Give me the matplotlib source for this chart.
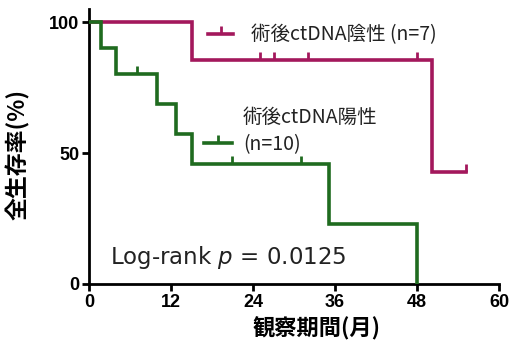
import matplotlib.pyplot as plt
from matplotlib.lines import Line2D

plt.rcParams['font.family'] = ['Liberation Sans', 'Noto Sans CJK JP', 'DejaVu Sans']
plt.rcParams['mathtext.fontset'] = 'dejavusans'

# 術後ctDNA陰性 (n=7): step curve (time in months, survival %)
neg_t = [0, 15, 15, 50.2, 50.2, 55.2]
neg_s = [100, 100, 85.7, 85.7, 42.9, 42.9]
neg_cens_t = [25, 27, 32, 48, 55.2]
neg_cens_s = [85.7, 85.7, 85.7, 85.7, 42.9]

# 術後ctDNA陽性 (n=10)
pos_t = [0, 1.7, 1.7, 4, 4, 9.9, 9.9, 12.8, 12.8, 15, 15, 35.1, 35.1, 48, 48]
pos_s = [100, 100, 90, 90, 80, 80, 68.6, 68.6, 57.1, 57.1, 45.7, 45.7, 22.9, 22.9, 0]
pos_cens_t = [7, 21, 31]
pos_cens_s = [80, 45.7, 45.7]

x_ticks = [0, 12, 24, 36, 48, 60]
y_ticks = [0, 50, 100]

c_neg = '#A3185C'
c_pos = '#1F6B1F'
txt_c = '#222222'
cjk = ['Noto Sans CJK JP', 'DejaVu Sans']

fig = plt.figure(figsize=(5.13, 3.45), dpi=100)
ax = fig.add_axes([89 / 513, 1 - 284 / 345, 410 / 513, 275 / 345])

ax.plot(neg_t, neg_s, color=c_neg, lw=2.6, solid_joinstyle='miter', zorder=3)
ax.plot(neg_cens_t, neg_cens_s, ls='none', marker=2, ms=6, mew=2, color=c_neg, zorder=3)
ax.plot(pos_t, pos_s, color=c_pos, lw=2.6, solid_joinstyle='miter', zorder=3)
ax.plot(pos_cens_t, pos_cens_s, ls='none', marker=2, ms=6, mew=2, color=c_pos, zorder=3)

ax.set_xlim(0, 60)
ax.set_ylim(0, 105)
ax.set_xticks(x_ticks)
ax.set_yticks(y_ticks)
for s in ['top', 'right']:
    ax.spines[s].set_visible(False)
for s in ['left', 'bottom']:
    ax.spines[s].set_linewidth(2)
ax.tick_params(width=2, length=5, labelsize=13, pad=2)
for lab in ax.get_xticklabels() + ax.get_yticklabels():
    lab.set_fontweight('bold')

ax.set_xlabel('観察期間(月)', fontsize=16, fontweight='bold', family=['Noto Sans CJK JP'])
ax.xaxis.set_label_coords(0.556, -0.12)
ax.set_ylabel('全生存率(%)', fontsize=16.5, fontweight='bold', family=['Noto Sans CJK JP'])
ax.yaxis.set_label_coords(-0.145, 0.47)

# 凡例
leg1 = ax.legend([Line2D([0, 1], [0, 0], color=c_neg, lw=2.6, marker=2, ms=6, mew=2)],
                 ['術後ctDNA陰性 (n=7)'], loc='center left',
                 bbox_to_anchor=(0.29, 0.905), frameon=False, borderpad=0,
                 borderaxespad=0, handlelength=1.3, handletextpad=0.9,
                 numpoints=1, prop={'family': cjk, 'size': 14})
ax.add_artist(leg1)
leg2 = ax.legend([Line2D([0, 1], [0, 0], color=c_pos, lw=2.6, marker=2, ms=6, mew=2)],
                 ['(n=10)'], loc='center left',
                 bbox_to_anchor=(0.28, 0.508), frameon=False, borderpad=0,
                 borderaxespad=0, handlelength=1.45, handletextpad=0.6,
                 numpoints=1, prop={'family': cjk, 'size': 14})
ax.text(0.375, 0.607, '術後ctDNA陽性', transform=ax.transAxes, ha='left', va='center',
        fontsize=14, family=cjk, color=txt_c)
for t in leg1.get_texts() + leg2.get_texts():
    t.set_color(txt_c)

ax.text(0.05, 0.095, 'Log-rank $p$ = 0.0125', transform=ax.transAxes,
        fontsize=16.5, family=['DejaVu Sans'], color=txt_c, ha='left', va='center')

fig.savefig('out.png', dpi=100)
